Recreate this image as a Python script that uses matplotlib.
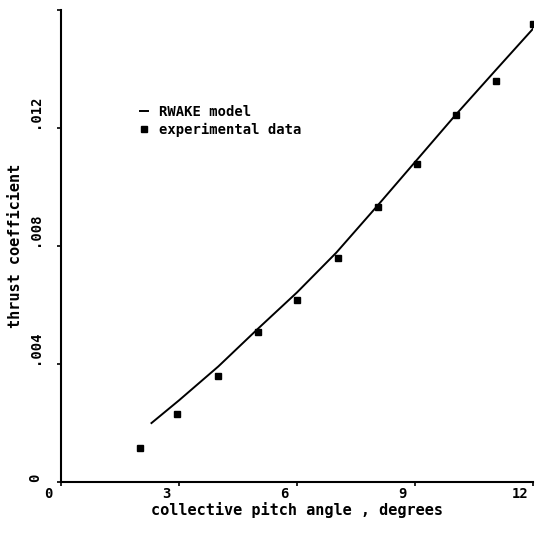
import matplotlib
matplotlib.use('Agg')
from matplotlib import pyplot as plt
import matplotlib.transforms as mtransforms

# Experimental data (collective pitch angle in degrees, thrust coefficient)
exp_pitch = [2.0, 2.95, 4.0, 5.0, 6.0, 7.05, 8.05, 9.05, 10.05, 11.05, 12.0]
exp_ct = [0.00114, 0.00232, 0.00359, 0.00508, 0.00618, 0.00761, 0.00932, 0.0108, 0.01243, 0.01361, 0.01553]

# RWAKE model curve
model_pitch = [2.3, 3.0, 4.0, 5.0, 6.0, 7.0, 8.0, 9.0, 10.0, 11.0, 12.0]
model_ct = [0.0020, 0.00277, 0.00392, 0.00519, 0.00643, 0.00778, 0.00930, 0.01085, 0.01240, 0.01389, 0.01537]

x_ticks = [0, 3, 6, 9, 12]
x_tick_labels = ['0', '3', '6', '9', '12']
y_ticks = [0, 0.004, 0.008, 0.012, 0.016]
y_tick_labels = ['0', '.004', '.008', '.012', '']

plt.rcParams['font.family'] = 'DejaVu Sans Mono'
plt.rcParams['font.weight'] = 'bold'

fig = plt.figure(figsize=(5.37, 5.35), dpi=100)
ax = fig.add_axes([0.1136, 0.099, 0.879, 0.882])

# Model as a black solid line, data as filled square markers
ax.plot(model_pitch, model_ct, color='k', linestyle='-', linewidth=1.4, label='RWAKE model')
ax.plot(exp_pitch, exp_ct, color='k', linestyle='none', marker='s', markersize=5, label='experimental data')

ax.set_xlim(0, 12)
ax.set_ylim(0, 0.016)

ax.spines['top'].set_visible(False)
ax.spines['right'].set_visible(False)
ax.spines['left'].set_linewidth(1.5)
ax.spines['bottom'].set_linewidth(1.5)

ax.set_xticks(x_ticks)
ax.set_xticklabels(x_tick_labels, fontsize=10, fontweight='bold')
ax.set_yticks(y_ticks)
ax.set_yticklabels(y_tick_labels, fontsize=10, fontweight='bold')
ax.tick_params(axis='both', direction='out', length=3, width=1.2, pad=1)

# x labels sit a bit left of their ticks, close under the axis
shift_x = mtransforms.ScaledTranslation(-13 / 100, 1 / 100, fig.dpi_scale_trans)
for lab in ax.get_xticklabels():
    lab.set_transform(lab.get_transform() + shift_x)

# y labels are rotated and sit just above their ticks
shift_y = mtransforms.ScaledTranslation(-20 / 100, 0, fig.dpi_scale_trans)
for lab in ax.get_yticklabels():
    lab.set_rotation(90)
    lab.set_verticalalignment('bottom')
    lab.set_horizontalalignment('center')
    lab.set_transform(lab.get_transform() + shift_y)

ax.set_xlabel('collective pitch angle , degrees', fontsize=11, fontweight='bold')
ax.set_ylabel('thrust coefficient', fontsize=11, fontweight='bold')
ax.xaxis.set_label_coords(0.5, -0.042)
ax.yaxis.set_label_coords(-0.081, 0.5)

ax.legend(loc='upper left', bbox_to_anchor=(0.14, 0.826), frameon=False,
          handlelength=0.6, handletextpad=0.8, labelspacing=0.3,
          prop={'family': 'DejaVu Sans Mono', 'weight': 'bold', 'size': 10})

plt.savefig('out.png', dpi=100)
